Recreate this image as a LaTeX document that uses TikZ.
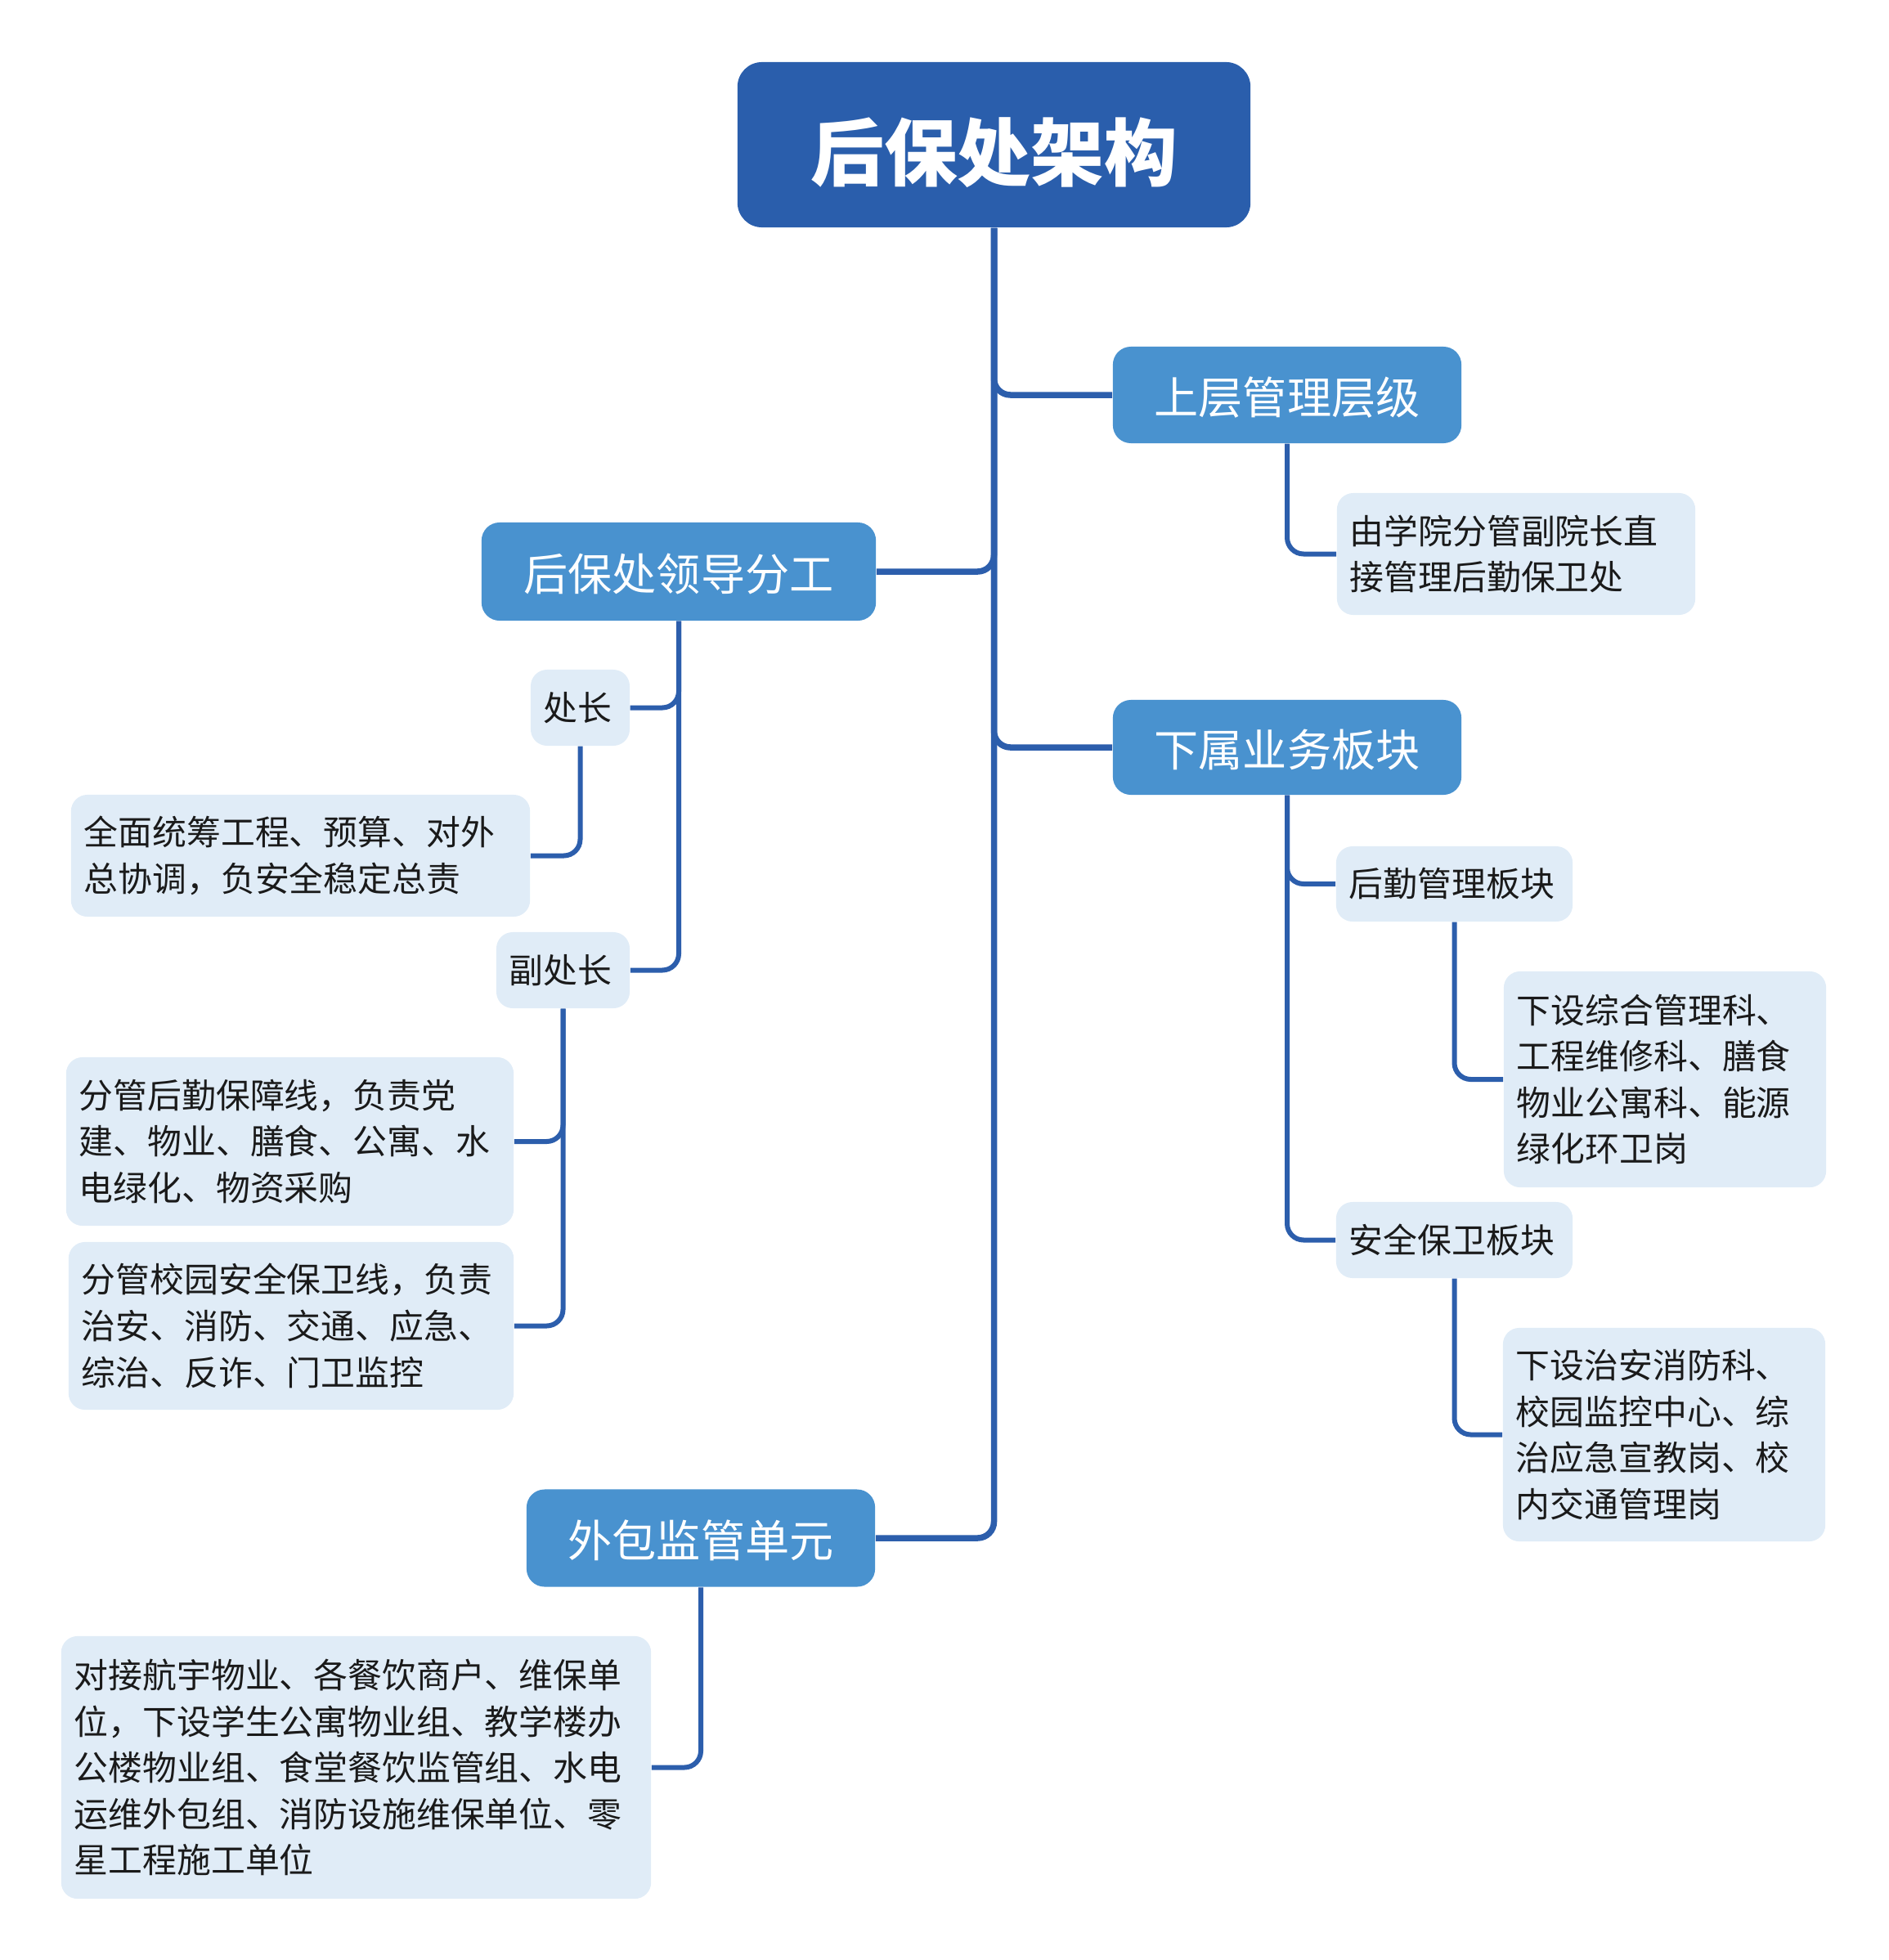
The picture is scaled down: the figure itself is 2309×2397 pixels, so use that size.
\documentclass[tikz,border=0pt]{standalone}
\usepackage{fontspec}
\setmainfont{Noto Sans CJK SC}
\definecolor{rootblue}{RGB}{42,94,172}
\definecolor{midblue}{RGB}{73,146,207}
\definecolor{paleblue}{RGB}{224,236,247}
\definecolor{lineblue}{RGB}{44,94,172}
\definecolor{textdark}{RGB}{26,26,26}
\newcommand{\lowertext}[2]{\raisebox{-#1}[\height][\depth]{#2}}
\begin{document}
\begin{tikzpicture}[x=0.01cm,y=-0.01cm,
  rootbox/.style={fill=rootblue, rounded corners=0.3cm, inner sep=0pt, text=white,
    font=\fontsize{25.5}{30}\selectfont\bfseries},
  lonebox/.style={fill=midblue, rounded corners=0.22cm, inner sep=0pt, text=white,
    font=\fontsize{15.4}{18}\selectfont},
  ltwobox/.style={fill=paleblue, rounded corners=0.2cm, inner xsep=0.16cm, inner ysep=0pt,
    text=textdark, align=left, text width=#1, font=\fontsize{11.9}{16.1}\selectfont},
  conn/.style={draw=lineblue, line width=0.075cm, rounded corners=0.2cm},
  conntwo/.style={draw=lineblue, line width=0.06cm, rounded corners=0.2cm}]
\useasboundingbox (0,0) rectangle (2309,2397);
% main nodes
\node[rootbox, minimum width=6.27cm, minimum height=2.02cm] (root) at (1215.5,177) {\lowertext{0.1cm}{后保处架构}};
\node[lonebox, minimum width=4.26cm, minimum height=1.18cm] (top) at (1574,483) {\lowertext{0.03cm}{上层管理层级}};
\node[lonebox, minimum width=4.82cm, minimum height=1.20cm] (lead) at (830,699) {\lowertext{0.03cm}{后保处领导分工}};
\node[lonebox, minimum width=4.26cm, minimum height=1.16cm] (sub) at (1574,914) {\lowertext{0.03cm}{下属业务板块}};
\node[lonebox, minimum width=4.26cm, minimum height=1.19cm] (out) at (857,1881) {\lowertext{0.03cm}{外包监管单元}};
% second level
\node[ltwobox=4.06cm, minimum height=1.49cm] (direct) at (1854,677.5) {由学院分管副院长直\\接管理后勤保卫处};
\node[ltwobox=0.89cm, minimum height=0.93cm] (chief) at (709.5,865.5) {处长};
\node[ltwobox=1.31cm, minimum height=0.93cm] (deputy) at (688.5,1186.5) {副处长};
\node[ltwobox=5.29cm, minimum height=1.49cm] (chiefdesc) at (367.5,1046.5) {全面统筹工程、预算、对外\\总协调，负安全稳定总责};
\node[ltwobox=5.15cm, minimum height=2.06cm] (depone) at (354.5,1396) {分管后勤保障线，负责党\\建、物业、膳食、公寓、水\\电绿化、物资采购};
\node[ltwobox=5.12cm, minimum height=2.05cm] (deptwo) at (356,1621.5) {分管校园安全保卫线，负责\\治安、消防、交通、应急、\\综治、反诈、门卫监控};
\node[ltwobox=6.89cm, minimum height=3.21cm] (outdesc) at (435.5,2161.5) {对接航宇物业、各餐饮商户、维保单\\位，下设学生公寓物业组、教学楼办\\公楼物业组、食堂餐饮监管组、水电\\运维外包组、消防设施维保单位、零\\星工程施工单位};
\node[ltwobox=2.57cm, minimum height=0.92cm] (logi) at (1778.5,1081) {后勤管理板块};
\node[ltwobox=3.62cm, minimum height=2.64cm] (logidesc) at (2036,1320) {下设综合管理科、\\工程维修科、膳食\\物业公寓科、能源\\绿化环卫岗};
\node[ltwobox=2.57cm, minimum height=0.93cm] (sec) at (1778.5,1516.5) {安全保卫板块};
\node[ltwobox=3.62cm, minimum height=2.61cm] (secdesc) at (2035,1754.5) {下设治安消防科、\\校园监控中心、综\\治应急宣教岗、校\\内交通管理岗};
% connectors
\draw[conn] (root.south) |- (top.west);
\draw[conn] (root.south) |- (lead.east);
\draw[conn] (root.south) |- (sub.west);
\draw[conn] (root.south) |- (out.east);
\draw[conntwo] (top.south) |- (direct.west);
\draw[conntwo] (lead.south) |- (chief.east);
\draw[conntwo] (lead.south) |- (deputy.east);
\draw[conntwo] (chief.south) |- (chiefdesc.east);
\draw[conntwo] (deputy.south) |- (depone.east);
\draw[conntwo] (deputy.south) |- (deptwo.east);
\draw[conntwo] (out.south) |- (outdesc.east);
\draw[conntwo] (sub.south) |- (logi.west);
\draw[conntwo] (sub.south) |- (sec.west);
\draw[conntwo] (logi.south) |- (logidesc.west);
\draw[conntwo] (sec.south) |- (secdesc.west);
\end{tikzpicture}
\end{document}
